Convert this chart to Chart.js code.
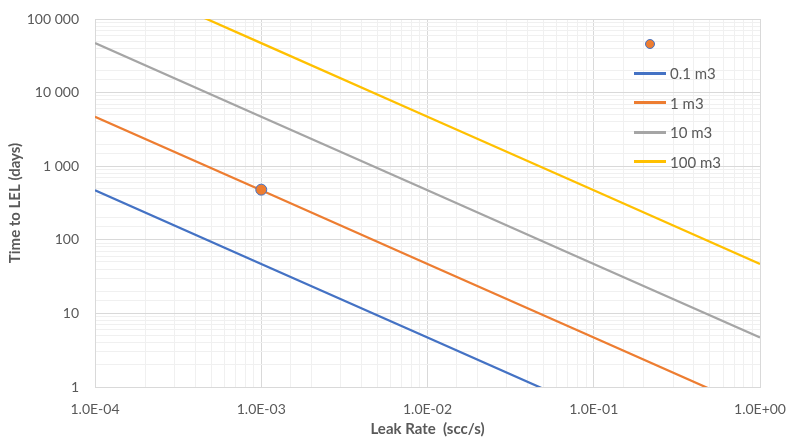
<!DOCTYPE html>
<html>
<head>
<meta charset="utf-8">
<script src="https://cdn.jsdelivr.net/npm/chart.js@4"></script>
<style>
  html, body { margin: 0; padding: 0; background: #fff; }
  #wrap { position: relative; width: 789px; height: 442px; }
  #legend {
    position: absolute; left: 634px; top: 29px;
    font-family: Lato, "Open Sans", sans-serif; font-size: 15px; color: #595959;
  }
  #legend .row { height: 29.5px; display: flex; align-items: center; }
  #legend .swatch { width: 32px; height: 3px; margin-right: 4px; }
  #legend .dot {
    width: 8px; height: 8px; border-radius: 50%; background: #ED7D31;
    border: 1px solid #4472C4; margin-left: 11px;
  }
</style>
</head>
<body>
<div id="wrap">
  <canvas id="chart" width="789" height="442"></canvas>
  <div id="legend"></div>
</div>
<script>
// Données
const leakRates = [1e-4, 1e-3, 1e-2, 1e-1, 1e0];
const days01 = [470, 47, 4.7, 0.47, 0.047];
const days1 = [4700, 470, 47, 4.7, 0.47];
const days10 = [47000, 4700, 470, 47, 4.7];
const days100 = [470000, 47000, 4700, 470, 47];
const markerX = [1e-3];
const markerY = [480];

const seriesNames = ['0.1 m3', '1 m3', '10 m3', '100 m3'];
const seriesColors = ['#4472C4', '#ED7D31', '#A5A5A5', '#FFC000'];
const seriesValues = [days01, days1, days10, days100];

const FONT = 'Lato, "Open Sans", sans-serif';

function isPow10(v) {
  const l = Math.log10(v);
  return Math.abs(l - Math.round(l)) < 1e-9;
}

function formatSci(v) {
  const e = Math.round(Math.log10(v));
  const sign = e < 0 ? '-' : '+';
  return '1.0E' + sign + String(Math.abs(e)).padStart(2, '0');
}

function formatDays(v) {
  return Math.round(v).toString().replace(/\B(?=(\d{3})+(?!\d))/g, ' ');
}

function gridColor(ctx) {
  if (!ctx.tick) return '#d9d9d9';
  return isPow10(ctx.tick.value) ? '#d9d9d9' : '#f0f0f0';
}

const datasets = [{
  label: '',
  data: markerX.map((x, i) => ({ x: x, y: markerY[i] })),
  showLine: false,
  pointRadius: 5.5,
  pointBackgroundColor: '#ED7D31',
  pointBorderColor: '#4472C4',
  pointBorderWidth: 1,
  order: 0
}];

seriesValues.forEach((vals, i) => {
  datasets.push({
    label: seriesNames[i],
    data: leakRates.map((x, j) => ({ x: x, y: vals[j] })),
    showLine: true,
    borderColor: seriesColors[i],
    borderWidth: 2.25,
    pointRadius: 0,
    order: 1 + i
  });
});

new Chart(document.getElementById('chart'), {
  type: 'scatter',
  data: { datasets: datasets },
  options: {
    responsive: false,
    animation: false,
    layout: { padding: { top: 19, right: 29, left: 0, bottom: 0 } },
    plugins: { legend: { display: false }, tooltip: { enabled: false } },
    scales: {
      x: {
        type: 'logarithmic',
        min: 1e-4,
        max: 1,
        grid: { color: gridColor, lineWidth: 1, drawTicks: false },
        border: { color: '#d9d9d9' },
        ticks: {
          autoSkip: false,
          maxRotation: 0,
          padding: 14,
          color: '#595959',
          font: { family: FONT, size: 14 },
          callback: (v) => isPow10(v) ? formatSci(v) : ''
        },
        title: {
          display: true,
          text: 'Leak Rate  (scc/s)',
          color: '#595959',
          font: { family: FONT, size: 15, weight: 'bold' },
          padding: { top: 1 }
        },
        afterFit: (s) => { s.height = 55; s.paddingLeft = 0; s.paddingRight = 0; }
      },
      y: {
        type: 'logarithmic',
        min: 1,
        max: 100000,
        grid: { color: gridColor, lineWidth: 1, drawTicks: false },
        border: { color: '#d9d9d9' },
        ticks: {
          autoSkip: false,
          padding: 16,
          color: '#595959',
          font: { family: FONT, size: 14 },
          callback: (v) => isPow10(v) ? formatDays(v) : ''
        },
        title: {
          display: true,
          text: 'Time to LEL (days)',
          color: '#595959',
          font: { family: FONT, size: 15, weight: 'bold' },
          padding: { top: 6, bottom: 4 }
        },
        afterFit: (s) => { s.width = 95; s.paddingTop = 0; s.paddingBottom = 0; }
      }
    }
  }
});

// Légende personnalisée à l'intérieur du graphique
const legendEl = document.getElementById('legend');
legendEl.innerHTML = '<div class="row"><div class="dot"></div></div>' +
  seriesNames.map((n, i) =>
    '<div class="row"><div class="swatch" style="background:' + seriesColors[i] + '"></div>' + n + '</div>'
  ).join('');
</script>
</body>
</html>
